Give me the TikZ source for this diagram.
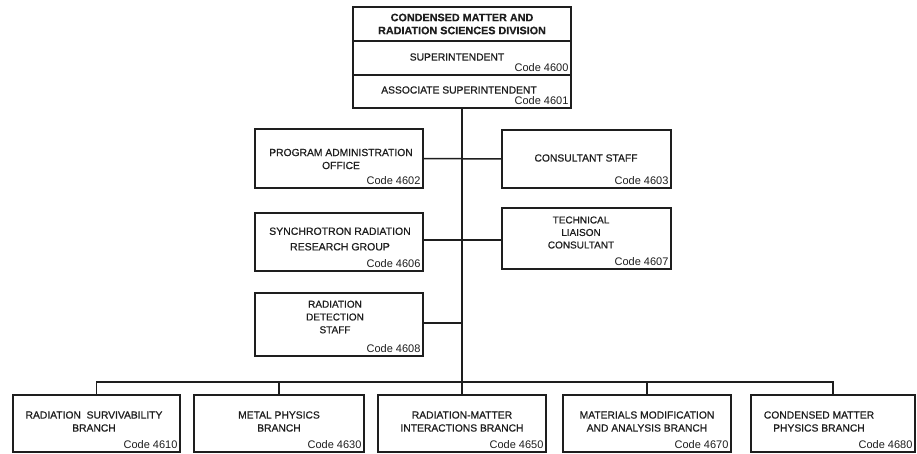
\documentclass[tikz,border=0pt]{standalone}
\usepackage{fontspec}
\setmainfont{Liberation Sans}
\newfontfamily\medfont[FakeBold=0.6]{Liberation Sans}
\newfontfamily\ttlfont[FakeBold=0.5]{Liberation Sans Bold}
\begin{document}
\begin{tikzpicture}[x=1pt,y=-1pt,
  orgbox/.style={draw=ink, line width=1.5pt, rectangle, inner sep=0pt, outer sep=0pt},
  lbl/.style={text=ink, align=center, inner sep=0pt, font=\medfont\fontsize{10.3}{13}\selectfont},
  ttl/.style={text=ink, align=center, inner sep=0pt, font=\ttlfont\fontsize{10.8}{13}\selectfont},
  codetxt/.style={text=ink, anchor=south east, inner xsep=2.4pt, inner ysep=2.8pt, font=\fontsize{11}{13}\selectfont},
  conn/.style={draw=ink, line width=1.5pt}]
\definecolor{ink}{HTML}{1E1E1E}
\useasboundingbox (0,0) rectangle (917,453);
\fill[white] (0,0) rectangle (917,453);
% top block
\node[orgbox, minimum width=218pt, minimum height=34pt] (div) at (462,24) {};
\node[orgbox, minimum width=218pt, minimum height=34pt] (sup) at (462,58) {};
\node[orgbox, minimum width=218pt, minimum height=33pt] (aso) at (462,91.5) {};
\node[ttl] (divt) at (462,24) {CONDENSED MATTER AND\\RADIATION SCIENCES DIVISION};
\node[lbl] (supt) at (457,57) {SUPERINTENDENT};
\node[codetxt] (supc) at (sup.south east) {Code 4600};
\node[lbl] (asot) at (459,90) {ASSOCIATE SUPERINTENDENT};
\node[codetxt] (asoc) at (aso.south east) {Code 4601};
% staff boxes
\node[orgbox, minimum width=168pt, minimum height=59pt] (pao) at (339,158.5) {};
\node[lbl] (paot) at (341,159) {PROGRAM ADMINISTRATION\\OFFICE};
\node[codetxt] (paoc) at (pao.south east) {Code 4602};
\node[orgbox, minimum width=169pt, minimum height=58pt] (cs) at (586.5,159) {};
\node[lbl] (cst) at (586,158) {CONSULTANT STAFF};
\node[codetxt] (csc) at (cs.south east) {Code 4603};
\node[orgbox, minimum width=168pt, minimum height=58pt] (srrg) at (339,242) {};
\node[lbl, font=\medfont\fontsize{10.5}{15.5}\selectfont] (srrgt) at (340,239) {SYNCHROTRON RADIATION\\RESEARCH GROUP};
\node[codetxt] (srrgc) at (srrg.south east) {Code 4606};
\node[orgbox, minimum width=169pt, minimum height=61pt] (tlc) at (586.5,238.5) {};
\node[lbl, font=\medfont\fontsize{10}{12.5}\selectfont] (tlct) at (581,232.5) {TECHNICAL\\LIAISON\\CONSULTANT};
\node[codetxt] (tlcc) at (tlc.south east) {Code 4607};
\node[orgbox, minimum width=168pt, minimum height=63pt] (rds) at (339,324.5) {};
\node[lbl, font=\medfont\fontsize{10}{12.8}\selectfont] (rdst) at (335,317) {RADIATION\\DETECTION\\STAFF};
\node[codetxt] (rdsc) at (rds.south east) {Code 4608};
% branches
\node[orgbox, minimum width=167pt, minimum height=57pt] (b1) at (96.5,423.5) {};
\node[lbl] (b1t) at (94,421.5) {RADIATION\ \ SURVIVABILITY\\BRANCH};
\node[codetxt] (b1c) at (b1.south east) {Code 4610};
\node[orgbox, minimum width=170pt, minimum height=57pt] (b2) at (279,423.5) {};
\node[lbl] (b2t) at (279,421.5) {METAL PHYSICS\\BRANCH};
\node[codetxt] (b2c) at (b2.south east) {Code 4630};
\node[orgbox, minimum width=168pt, minimum height=57pt] (b3) at (462,423.5) {};
\node[lbl] (b3t) at (462,421.5) {RADIATION-MATTER\\INTERACTIONS BRANCH};
\node[codetxt] (b3c) at (b3.south east) {Code 4650};
\node[orgbox, minimum width=168pt, minimum height=57pt] (b4) at (647,423.5) {};
\node[lbl] (b4t) at (647,421.5) {MATERIALS MODIFICATION\\AND ANALYSIS BRANCH};
\node[codetxt] (b4c) at (b4.south east) {Code 4670};
\node[orgbox, minimum width=164pt, minimum height=57pt] (b5) at (833,423.5) {};
\node[lbl] (b5t) at (819,421.5) {CONDENSED MATTER\\PHYSICS BRANCH};
\node[codetxt] (b5c) at (b5.south east) {Code 4680};
% connectors
\coordinate (bus) at (462,382);
\coordinate (row2) at (462,240);
\coordinate (row3) at (462,323);
\draw[conn] (aso.south) -- (b3.north);
\draw[conn] (pao.east) -- (cs.west);
\draw[conn] (srrg.east |- row2) -- (tlc.west |- row2);
\draw[conn] (rds.east |- row3) -- (row3);
\draw[conn] (b1.north) -- (b1.north |- bus) -- (b5.north |- bus) -- (b5.north);
\draw[conn] (b2.north) -- (b2.north |- bus);
\draw[conn] (b4.north) -- (b4.north |- bus);
\end{tikzpicture}
\end{document}
